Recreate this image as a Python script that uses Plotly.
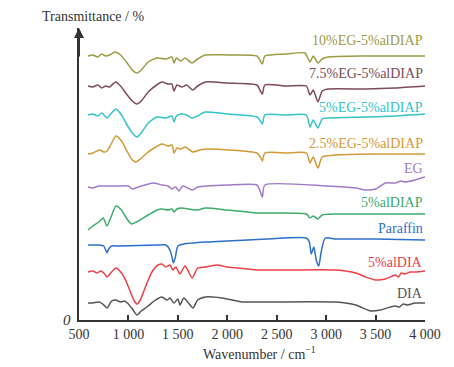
import plotly.graph_objects as go

# ---------------- data (wavenumber in cm-1, offset transmittance in arbitrary units) ----------------
wn_10eg = [591, 640, 690, 730, 770, 810, 864, 920, 980, 1040, 1086, 1130, 1200, 1289, 1380, 1440, 1461, 1485, 1530, 1572,
           1643, 1700, 1774, 2000, 2300, 2335, 2355, 2380, 2600, 2785, 2836, 2870, 2917, 2960, 3018, 3400, 3700, 4000]
t_10eg = [264, 265, 263, 266, 264, 265, 268, 265, 258, 250, 247, 250, 258, 262, 261, 263, 257, 262, 259, 262,
          257, 261, 265, 265, 264, 259, 256, 264, 266, 267, 258, 264, 257, 261, 263, 264, 264, 264]

wn_75eg = [591, 640, 690, 730, 770, 810, 870, 920, 980, 1040, 1086, 1130, 1200, 1300, 1340, 1400, 1440, 1461, 1490, 1540,
           1590, 1650, 1700, 1780, 2000, 2300, 2335, 2355, 2380, 2600, 2800, 2836, 2870, 2917, 2960, 3020, 3400, 3700, 4000]
t_75eg = [234, 233, 235, 232, 234, 233, 238, 234, 226, 219, 216, 219, 228, 236, 238, 236, 236, 229, 235, 233,
          235, 230, 234, 238, 237, 235, 229, 226, 235, 234, 234, 225, 230, 218, 229, 231, 231, 232, 234]

wn_5eg = [591, 640, 690, 730, 783, 820, 874, 930, 980, 1040, 1086, 1130, 1200, 1289, 1380, 1440, 1461, 1485, 1530, 1590,
          1643, 1700, 1774, 2000, 2300, 2335, 2355, 2380, 2600, 2800, 2836, 2870, 2917, 2960, 3020, 3400, 3700, 4000]
t_5eg = [205, 206, 204, 207, 202, 206, 211, 205, 196, 187, 183, 187, 197, 203, 202, 204, 198, 204, 206, 205,
         202, 204, 208, 206, 203, 199, 196, 205, 205, 205, 193, 200, 192, 201, 202, 203, 204, 206]

wn_25eg = [591, 640, 680, 712, 750, 783, 810, 874, 930, 990, 1040, 1075, 1120, 1188, 1260, 1339, 1400, 1440, 1461, 1490,
           1530, 1572, 1620, 1653, 1723, 1800, 2300, 2335, 2355, 2380, 2600, 2800, 2836, 2870, 2917, 2960, 3100, 3500, 4000]
t_25eg = [166, 167, 169, 170, 168, 169, 173, 184, 179, 168, 160, 158, 161, 167, 172, 176, 174, 175, 167, 172,
          171, 173, 170, 168, 170, 171, 167, 163, 159, 167, 167, 167, 157, 163, 152, 163, 165, 166, 166]

wn_eg = [591, 640, 700, 800, 900, 1000, 1040, 1100, 1250, 1340, 1400, 1440, 1480, 1510, 1550, 1600, 1650, 1700, 2000, 2300,
         2335, 2355, 2380, 3000, 3300, 3400, 3500, 3600, 3700, 3760, 3800, 3900, 4000]
t_eg = [133, 132, 134, 134, 134, 134, 131, 133, 137, 135, 134, 131, 133, 129, 134, 132, 130, 133, 135, 135,
        128, 123, 135, 134, 132, 130, 131, 137, 137, 139, 138, 140, 143]

wn_aldiap = [591, 640, 700, 720, 745, 783, 820, 874, 930, 985, 1030, 1080, 1200, 1290, 1339, 1400, 1440, 1461, 1490, 1540,
             1600, 1700, 1780, 2000, 2300, 2800, 2836, 2870, 2917, 2960, 3100, 3500, 4000]
t_aldiap = [90, 94, 98, 100, 102, 94, 102, 114, 110, 101, 96, 98, 105, 110, 111, 110, 111, 108, 111, 112,
            111, 110, 112, 110, 107, 106, 102, 104, 101, 105, 106, 106, 106]

wn_paraffin = [591, 700, 750, 770, 783, 800, 830, 900, 1300, 1380, 1420, 1440, 1455, 1475, 1500, 1560, 1800, 2000, 2400, 2800,
               2830, 2850, 2875, 2900, 2925, 2950, 2990, 3100, 3500, 4000]
t_paraffin = [75, 75, 74, 70, 67, 71, 74, 74, 75, 75, 70, 63, 57, 63, 74, 76, 78, 79, 81, 82,
              78, 66, 73, 60, 54, 68, 82, 81, 81, 80]

wn_aldia = [591, 640, 680, 720, 760, 783, 820, 874, 930, 980, 1020, 1060, 1086, 1120, 1160, 1200, 1250, 1300, 1339, 1380,
            1420, 1450, 1480, 1520, 1572, 1600, 1645, 1700, 1780, 1900, 2000, 2200, 2300, 2600, 3100, 3300, 3400, 3500, 3600, 3700,
            3730, 3760, 3800, 3850, 3900, 4000]
t_aldia = [48, 49, 47, 49, 46, 43, 47, 52, 47, 38, 28, 19, 16, 20, 30, 40, 50, 55, 56, 53,
           55, 50, 53, 46, 54, 50, 42, 52, 53, 55, 53, 51, 50, 50, 50, 47, 43, 40, 41, 45,
           43, 47, 46, 48, 48, 49]

wn_dia = [591, 640, 700, 740, 783, 830, 874, 920, 960, 1000, 1040, 1086, 1130, 1200, 1260, 1339, 1390, 1420, 1460, 1500,
          1521, 1560, 1600, 1653, 1700, 1780, 1850, 1950, 2050, 2150, 2300, 3100, 3300, 3450, 3550, 3650, 3700, 3740, 3780, 3820,
          3900, 4000]
t_dia = [17, 17, 18, 16, 12, 19, 20, 18, 19, 16, 11, 5, 9, 14, 19, 23, 20, 22, 17, 21,
         15, 22, 18, 12, 20, 23, 23, 22, 20, 18, 18, 18, 15, 9, 10, 13, 14, 13, 16, 15,
         17, 17]

series_names = ["10%EG-5%alDIAP", "7.5%EG-5%alDIAP", "5%EG-5%alDIAP", "2.5%EG-5%alDIAP",
                "EG", "5%alDIAP", "Paraffin", "5%alDIA", "DIA"]
label_y = [280, 247, 213, 177, 152, 118, 92, 58, 27]

x_ticks = [500, 1000, 1500, 2000, 2500, 3000, 3500, 4000]
x_ticktext = ["500", "1 000", "1 500", "2 000", "2 500", "3 000", "3 500", "4 000"]

# ---------------- styling ----------------
colors = ["#9b9b45", "#7b4b57", "#33c3c8", "#d19a36", "#a07cc8", "#3dab6c", "#2f6ecb", "#ee4048", "#555555"]
xs = [wn_10eg, wn_75eg, wn_5eg, wn_25eg, wn_eg, wn_aldiap, wn_paraffin, wn_aldia, wn_dia]
ys = [t_10eg, t_75eg, t_5eg, t_25eg, t_eg, t_aldiap, t_paraffin, t_aldia, t_dia]

FONT = "'Liberation Serif', 'Times New Roman', Times, 'DejaVu Serif', serif"
AX = "#333333"

fig = go.Figure()
for name, x, y, c in zip(series_names, xs, ys, colors):
    fig.add_trace(go.Scatter(x=x, y=y, mode="lines", name=name,
                             line=dict(color=c, width=1.5, shape="spline", smoothing=0.6)))

annotations = []
for name, ly, c in zip(series_names, label_y, colors):
    annotations.append(dict(x=4000, y=ly, xref="x", yref="y", text=name, showarrow=False,
                            xanchor="right", yanchor="middle", font=dict(color=c, size=14, family=FONT)))

# y-axis arrow
annotations.append(dict(x=500, y=292, ax=500, ay=262, xref="x", yref="y", axref="x", ayref="y",
                        text="", showarrow=True, arrowhead=2, arrowsize=1, arrowwidth=2, arrowcolor=AX))
# origin label
annotations.append(dict(x=0, y=0, xref="paper", yref="y", text="<i>0</i>", showarrow=False,
                        xanchor="right", yanchor="middle", xshift=-6, font=dict(size=15, family=FONT, color=AX)))
# axis titles
annotations.append(dict(x=0.0405, y=1.041, xref="paper", yref="paper", text="Transmittance / %",
                        showarrow=False, xanchor="center", yanchor="middle", font=dict(size=14, family=FONT, color=AX)))
annotations.append(dict(x=0.523, y=-0.113, xref="paper", yref="paper", text="Wavenumber / cm<sup>−1</sup>",
                        showarrow=False, xanchor="center", yanchor="middle", font=dict(size=14, family=FONT, color=AX)))

fig.update_layout(
    width=446, height=359,
    margin=dict(l=71, r=29, t=20, b=47),
    plot_bgcolor="white", paper_bgcolor="white",
    showlegend=False,
    font=dict(family=FONT, size=14, color=AX),
    annotations=annotations,
    xaxis=dict(range=[500, 4000], tickvals=x_ticks, ticktext=x_ticktext, showline=True, linecolor=AX,
               linewidth=2, ticks="inside", ticklen=5, tickwidth=1.5, tickcolor=AX, showgrid=False,
               zeroline=False, tickfont=dict(size=14, family=FONT, color=AX)),
    yaxis=dict(range=[0, 292], showline=True, linecolor=AX, linewidth=2, showticklabels=False,
               ticks="", showgrid=False, zeroline=False),
)

fig.write_html("out.html")
